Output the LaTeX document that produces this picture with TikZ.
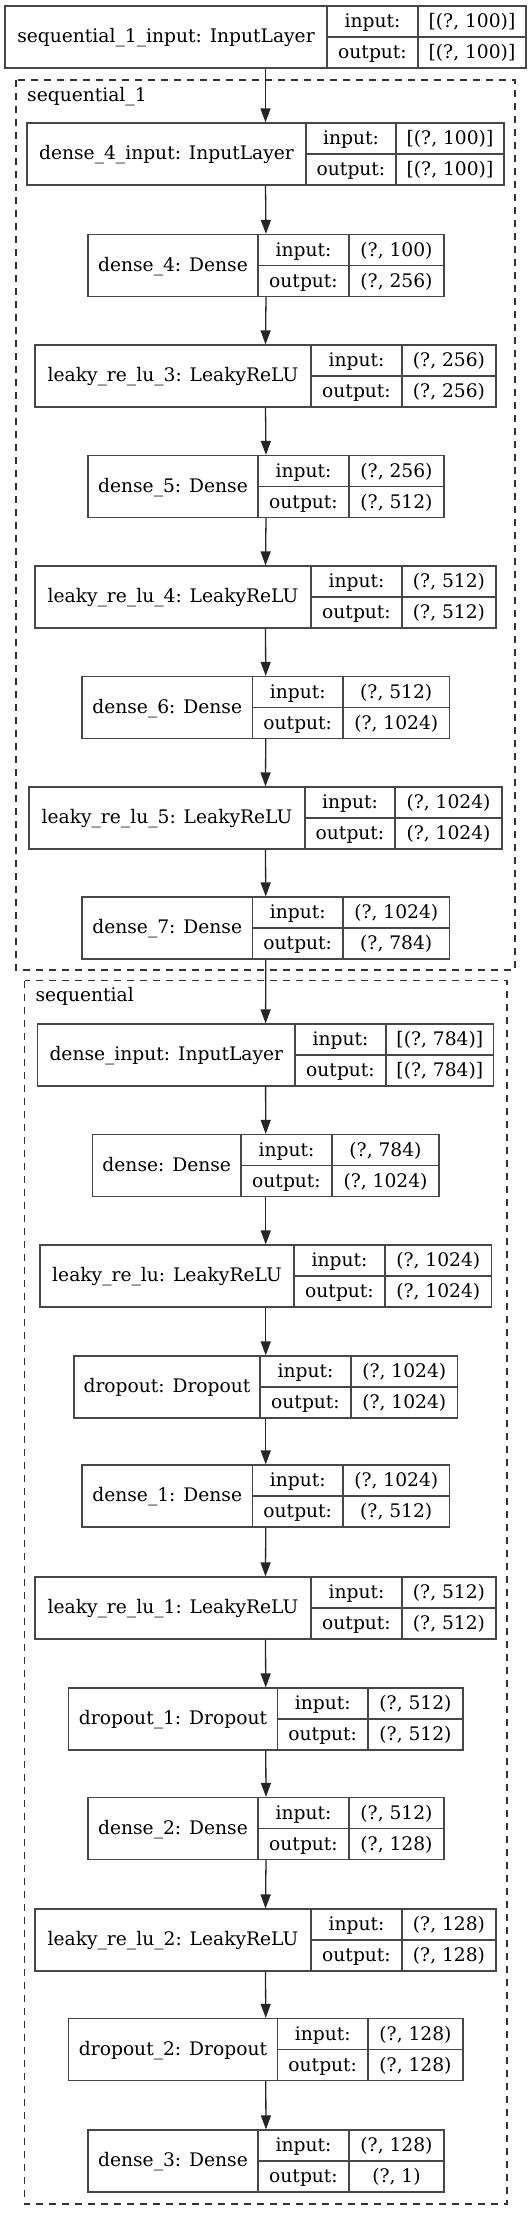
\documentclass[tikz,border=0pt]{standalone}
\usepackage{fontspec}
\setmainfont{DejaVu Serif}
\usetikzlibrary{arrows.meta}
\tikzset{
  recbox/.style={draw=black!72, line width=1.2pt, inner sep=0pt, minimum height=62pt},
  divline/.style={draw=black!72, line width=1.2pt},
  txt/.style={inner sep=0pt, anchor=base, font=\fontsize{18.67}{22}\selectfont},
  arr/.style={draw=black!85, line width=1.3pt, -{Triangle[length=14pt,width=10pt]}},
  cluster/.style={draw=black!80, line width=1.2pt, dash pattern=on 7pt off 6pt},
  clabel/.style={inner sep=0pt, anchor=base west, font=\fontsize{18.67}{22}\selectfont}
}
% #1 id, #2 top, #3 left, #4 div1, #5 div2, #6 right, #7 name, #8 in, #9 out
\newcommand{\layerbox}[9]{%
  \node[recbox, minimum width={(#6-#3)*1pt}] (#1) at ({(#3+#6)/2},{#2+31}) {};
  \draw[divline] ({#4},{#2}) -- ({#4},{#2+62});
  \draw[divline] ({#5},{#2}) -- ({#5},{#2+62});
  \draw[divline] ({#4},{#2+31}) -- ({#6},{#2+31});
  \node[txt] (#1-n) at ({(#3+#4)/2},{#2+36.5}) {#7};
  \node[txt] (#1-ik) at ({(#4+#5)/2},{#2+21.5}) {input:};
  \node[txt] (#1-ok) at ({(#4+#5)/2},{#2+52.5}) {output:};
  \node[txt] (#1-iv) at ({(#5+#6)/2},{#2+21.5}) {#8};
  \node[txt] (#1-ov) at ({(#5+#6)/2},{#2+52.5}) {#9};
}
\begin{document}
\begin{tikzpicture}[x=1pt,y=-1pt]
\useasboundingbox[fill=white] (0,0) rectangle (532,2216);
% clusters
\draw[cluster] (16,80) rectangle (515,970);
\node[clabel] (c1) at (27,101) {sequential\_1};
\draw[cluster] (24.7,980.5) rectangle (507,2204);
\node[clabel] (c2) at (35.3,1001) {sequential};
% layers
\layerbox{top}{6}{5}{327}{418}{526}{sequential\_1\_input: InputLayer}{[(?, 100)]}{[(?, 100)]}
\layerbox{dfi}{123}{27}{306}{396}{504}{dense\_4\_input: InputLayer}{[(?, 100)]}{[(?, 100)]}
\layerbox{dfour}{234.5}{88}{258}{349}{444}{dense\_4: Dense}{(?, 100)}{(?, 256)}
\layerbox{lthree}{345}{35}{311}{402}{496}{leaky\_re\_lu\_3: LeakyReLU}{(?, 256)}{(?, 256)}
\layerbox{dfive}{455.5}{88}{258}{349}{444}{dense\_5: Dense}{(?, 256)}{(?, 512)}
\layerbox{lfour}{566}{35}{311}{402}{496}{leaky\_re\_lu\_4: LeakyReLU}{(?, 512)}{(?, 512)}
\layerbox{dsix}{676.5}{82}{252.5}{343}{449.5}{dense\_6: Dense}{(?, 512)}{(?, 1024)}
\layerbox{lfive}{787}{29}{305}{395}{502}{leaky\_re\_lu\_5: LeakyReLU}{(?, 1024)}{(?, 1024)}
\layerbox{dseven}{897}{82}{252.5}{343}{449.5}{dense\_7: Dense}{(?, 1024)}{(?, 784)}
\layerbox{di}{1024}{37.6}{295}{386}{493.6}{dense\_input: InputLayer}{[(?, 784)]}{[(?, 784)]}
\layerbox{dzero}{1134.5}{92.5}{241}{332}{439}{dense: Dense}{(?, 784)}{(?, 1024)}
\layerbox{lzero}{1245}{40}{294}{385}{491.5}{leaky\_re\_lu: LeakyReLU}{(?, 1024)}{(?, 1024)}
\layerbox{dozero}{1356}{74}{260}{351}{457.5}{dropout: Dropout}{(?, 1024)}{(?, 1024)}
\layerbox{done}{1465}{82}{252.5}{343}{449.5}{dense\_1: Dense}{(?, 1024)}{(?, 512)}
\layerbox{lone}{1577}{35}{311}{402}{496}{leaky\_re\_lu\_1: LeakyReLU}{(?, 512)}{(?, 512)}
\layerbox{doone}{1688}{68.5}{277.5}{368}{463}{dropout\_1: Dropout}{(?, 512)}{(?, 512)}
\layerbox{dtwo}{1797.5}{88}{258}{349}{444}{dense\_2: Dense}{(?, 512)}{(?, 128)}
\layerbox{ltwo}{1909}{35}{311}{402}{496}{leaky\_re\_lu\_2: LeakyReLU}{(?, 128)}{(?, 128)}
\layerbox{dotwo}{2018.5}{68.5}{277.5}{368}{463}{dropout\_2: Dropout}{(?, 128)}{(?, 128)}
\layerbox{dthree}{2130}{88}{258}{349}{444}{dense\_3: Dense}{(?, 128)}{(?, 1)}
% connectors
\draw[arr] (top.south) -- (dfi.north);
\draw[arr] (dfi.south) -- (dfour.north);
\draw[arr] (dfour.south) -- (lthree.north);
\draw[arr] (lthree.south) -- (dfive.north);
\draw[arr] (dfive.south) -- (lfour.north);
\draw[arr] (lfour.south) -- (dsix.north);
\draw[arr] (dsix.south) -- (lfive.north);
\draw[arr] (lfive.south) -- (dseven.north);
\draw[arr] (dseven.south) -- (di.north);
\draw[arr] (di.south) -- (dzero.north);
\draw[arr] (dzero.south) -- (lzero.north);
\draw[arr] (lzero.south) -- (dozero.north);
\draw[arr] (dozero.south) -- (done.north);
\draw[arr] (done.south) -- (lone.north);
\draw[arr] (lone.south) -- (doone.north);
\draw[arr] (doone.south) -- (dtwo.north);
\draw[arr] (dtwo.south) -- (ltwo.north);
\draw[arr] (ltwo.south) -- (dotwo.north);
\draw[arr] (dotwo.south) -- (dthree.north);
\end{tikzpicture}
\end{document}
